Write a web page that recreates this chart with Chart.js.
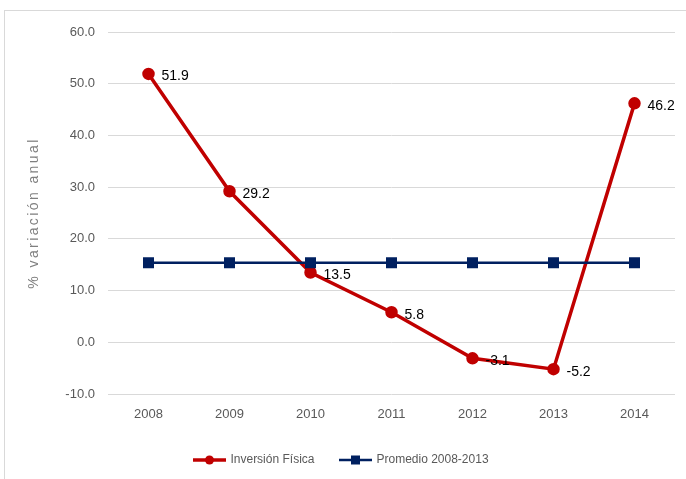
<!DOCTYPE html>
<html>
<head>
<meta charset="utf-8">
<script src="https://cdn.jsdelivr.net/npm/chart.js@4/dist/chart.umd.min.js"></script>
<style>
  html, body { margin: 0; padding: 0; background: #fff; }
  #wrap { position: relative; width: 686px; height: 479px; overflow: hidden; }
  #frame { position: absolute; left: 4px; top: 10px; width: 720px; height: 520px; border: 1px solid #d9d9d9; box-sizing: border-box; }
  canvas { position: absolute; left: 0; top: 0; }
</style>
</head>
<body>
<div id="wrap">
  <div id="frame"></div>
  <canvas id="c" width="686" height="479"></canvas>
</div>
<script>
const years = ['2008', '2009', '2010', '2011', '2012', '2013', '2014'];
const inversionFisica = [51.9, 29.2, 13.5, 5.8, -3.1, -5.2, 46.2];
const promedio = [15.4, 15.4, 15.4, 15.4, 15.4, 15.4, 15.4];
const yTicks = [-10, 0, 10, 20, 30, 40, 50, 60];
const seriesNames = ['Inversión Física', 'Promedio 2008-2013'];

const RED = '#C00000';
const NAVY = '#002060';
const FONT = '"Liberation Sans", Arial, sans-serif';

function legendIcon(color, marker) {
  const cv = document.createElement('canvas');
  cv.width = 33; cv.height = 12;
  const g = cv.getContext('2d');
  g.strokeStyle = color; g.lineWidth = marker === 'circle' ? 3.5 : 2.5;
  g.beginPath(); g.moveTo(0, 6); g.lineTo(33, 6); g.stroke();
  g.fillStyle = color;
  if (marker === 'circle') { g.beginPath(); g.arc(16.5, 6, 4.5, 0, Math.PI * 2); g.fill(); }
  else { g.fillRect(12, 1.5, 9, 9); }
  return cv;
}
const icons = [legendIcon(RED, 'circle'), legendIcon(NAVY, 'rect')];

const dataLabels = {
  id: 'dataLabels',
  afterDatasetsDraw(chart) {
    const ctx = chart.ctx;
    const meta = chart.getDatasetMeta(0);
    ctx.save();
    ctx.font = '14px ' + FONT;
    ctx.fillStyle = '#000';
    ctx.textAlign = 'left';
    ctx.textBaseline = 'middle';
    meta.data.forEach((pt, i) => {
      ctx.fillText(inversionFisica[i].toFixed(1), pt.x + 13, pt.y + 2.5);
    });
    ctx.restore();
  }
};

const spacedTitle = {
  id: 'spacedTitle',
  beforeDraw(chart) {
    const s = chart.scales.y;
    if (s && !s._spacedPatched) {
      const orig = s.drawTitle;
      s.drawTitle = function () {
        const ctx = this.ctx;
        ctx.save();
        ctx.letterSpacing = '2.4px';
        orig.apply(this, arguments);
        ctx.restore();
      };
      s._spacedPatched = true;
    }
  }
};

new Chart(document.getElementById('c'), {
  type: 'line',
  data: {
    labels: years,
    datasets: [
      {
        label: seriesNames[0],
        data: inversionFisica,
        borderColor: RED,
        backgroundColor: RED,
        borderWidth: 3.5,
        pointRadius: 4.5,
        pointStyle: 'circle',
        pointBackgroundColor: RED,
        pointBorderColor: RED,
        tension: 0,
        order: 2
      },
      {
        label: seriesNames[1],
        data: promedio,
        borderColor: NAVY,
        backgroundColor: NAVY,
        borderWidth: 2.5,
        pointRadius: 6,
        pointStyle: 'rect',
        pointBackgroundColor: NAVY,
        pointBorderColor: NAVY,
        tension: 0,
        order: 1
      }
    ]
  },
  options: {
    responsive: false,
    animation: false,
    devicePixelRatio: 1,
    layout: { padding: { left: 8, right: 11, top: 32, bottom: 3 } },
    plugins: {
      tooltip: { enabled: false },
      legend: {
        position: 'bottom',
        labels: {
          usePointStyle: true,
          pointStyleWidth: 30,
          padding: 26,
          color: '#595959',
          font: { family: FONT, size: 12 },
          generateLabels(chart) {
            return chart.data.datasets.map((ds, i) => ({
              text: ds.label,
              pointStyle: icons[i],
              fillStyle: ds.borderColor,
              strokeStyle: ds.borderColor,
              lineWidth: 0,
              fontColor: '#595959',
              datasetIndex: i,
              hidden: false
            }));
          }
        }
      }
    },
    scales: {
      x: {
        offset: true,
        grid: { display: false, drawTicks: false },
        border: { display: false },
        ticks: { color: '#595959', font: { family: FONT, size: 13 }, padding: 13 },
        afterFit(s) { s.height = 34; }
      },
      y: {
        min: -10,
        max: 60,
        afterBuildTicks(s) { s.ticks = yTicks.map(v => ({ value: v })); },
        grid: { color: '#d9d9d9', lineWidth: 1, drawTicks: false },
        border: { display: false },
        ticks: {
          color: '#595959',
          font: { family: FONT, size: 13 },
          padding: 13,
          callback: v => Number(v).toFixed(1)
        },
        title: {
          display: true,
          text: '% variación anual',
          color: '#7f7f7f',
          font: { family: FONT, size: 14 },
          padding: { top: 18, bottom: 0 }
        },
        afterFit(s) { s.width = 100; }
      }
    }
  },
  plugins: [dataLabels, spacedTitle]
});
</script>
</body>
</html>
